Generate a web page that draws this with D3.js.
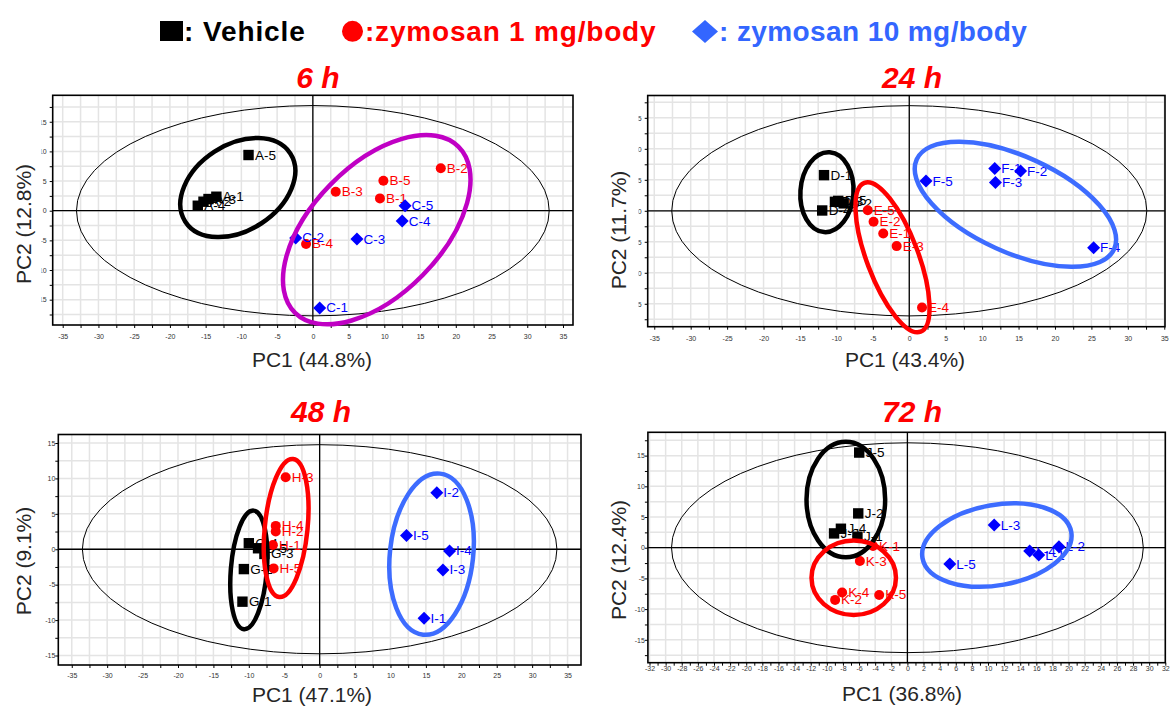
<!DOCTYPE html>
<html>
<head>
<meta charset="utf-8">
<script src="https://cdn.jsdelivr.net/npm/d3@7"></script>
<style>
  body { margin: 0; background: #fff; }
  text { font-family: Arial, "Liberation Sans", sans-serif; }
</style>
</head>
<body>
<script>
// ---- data ----
var titles = ['6 h', '24 h', '48 h', '72 h'];
var pc1Titles = ['PC1 (44.8%)', 'PC1 (43.4%)', 'PC1 (47.1%)', 'PC1 (36.8%)'];
var pc2Titles = ['PC2 (12.8%)', 'PC2 (11.7%)', 'PC2 (9.1%)', 'PC2 (12.4%)'];

var xDomains = [[-36.4, 36.4], [-35.9, 35.1], [-36.9, 36.9], [-32.2, 32.0]];
var yDomains = [[-19.27, 19.46], [-18.7, 18.6], [-16.34, 16.2], [-18.73, 18.8]];

var xLabels5 = [-35, -30, -25, -20, -15, -10, -5, 0, 5, 10, 15, 20, 25, 30, 35];
var xLabels2 = [-32, -30, -28, -26, -24, -22, -20, -18, -16, -14, -12, -10, -8, -6, -4, -2,
                0, 2, 4, 6, 8, 10, 12, 14, 16, 18, 20, 22, 24, 26, 28, 30, 32];
var yLabels = [-15, -10, -5, 0, 5, 10, 15];

// Hotelling T2 ellipse semi axes (PC1, PC2)
var hotellingA = [33.07, 32.6, 33.5, 29.27];
var hotellingB = [17.73, 16.96, 14.76, 17.09];

// [label, PC1, PC2]
var vehicleScores = [
  [['A-5', -9.0, 9.39], ['A-1', -13.5, 2.36], ['A-3', -14.6, 1.97], ['A-2', -15.3, 1.52], ['A-4', -16.1, 0.84]],
  [['D-1', -11.7, 5.75], ['D-4', -11.95, 0.05], ['D-3', -10.2, 1.45], ['D-5', -9.75, 1.6], ['D-2', -9.0, 1.2]],
  [['G-1', -10.9, -7.4], ['G-2', -10.7, -2.8], ['G-3', -7.8, -0.66], ['G-5', -8.7, 0.14], ['G-4', -10.0, 0.85]],
  [['J-5', -5.98, 15.5], ['J-2', -6.1, 5.59], ['J-3', -9.1, 2.33], ['J-4', -8.25, 3.09], ['J-1', -6.2, 1.79]]
];
var zym1Scores = [
  [['B-1', 9.39, 2.08], ['B-2', 17.9, 7.15], ['B-3', 3.2, 3.2], ['B-4', -0.95, -5.6], ['B-5', 9.87, 5.06]],
  [['E-1', -3.57, -3.65], ['E-2', -4.9, -1.77], ['E-3', -1.73, -5.7], ['E-4', 1.75, -15.6], ['E-5', -5.7, 0.1]],
  [['H-1', -6.6, 0.6], ['H-2', -6.2, 2.5], ['H-3', -4.8, 10.17], ['H-4', -6.2, 3.3], ['H-5', -6.5, -2.7]],
  [['K-1', -4.27, 0.27], ['K-2', -8.97, -8.5], ['K-3', -5.9, -2.17], ['K-4', -8.1, -7.3], ['K-5', -3.5, -7.7]]
];
var zym10Scores = [
  [['C-1', 0.96, -16.4], ['C-2', -2.4, -4.6], ['C-3', 6.17, -4.78], ['C-4', 12.5, -1.74], ['C-5', 12.9, 0.84]],
  [['F-1', 11.73, 6.83], ['F-2', 15.28, 6.4], ['F-3', 11.83, 4.57], ['F-4', 25.3, -5.97], ['F-5', 2.3, 4.8]],
  [['I-1', 14.74, -9.73], ['I-2', 16.54, 7.99], ['I-3', 17.41, -2.92], ['I-4', 18.34, -0.24], ['I-5', 12.26, 1.93]],
  [['L-1', 16.3, -1.19], ['L-2', 18.8, 0.16], ['L-3', 10.77, 3.69], ['L-4', 15.17, -0.54], ['L-5', 5.26, -2.66]]
];

// hand drawn group rings: [centre PC1, centre PC2, radius PC1, radius PC2, tilt deg, colour]
var groupRings = [
  [[-10.5, 3.9, 8.76, 7.22, -33, '#000'], [8.94, -3.2, 16.3, 10.9, -45.5, '#c000c4']],
  [[-11.3, 3.0, 3.64, 6.45, 4, '#000'], [-2.3, -7.5, 3.53, 12.84, -20.7, '#ff0000'], [14.57, 1.05, 14.88, 7.74, 24.4, '#3d6cff']],
  [[-10.0, -2.92, 2.54, 8.4, 4.6, '#000'], [-4.73, 3.0, 3.02, 9.79, 5.7, '#ff0000'], [15.8, -0.69, 5.88, 11.43, 6, '#3d6cff']],
  [[-7.64, 7.85, 4.88, 9.41, 0, '#000'], [-6.66, -4.9, 5.24, 6.06, 0, '#ff0000'], [11.1, 0.44, 9.37, 6.55, -10, '#3d6cff']]
];

// ---- layout ----
var width = 1170;
var height = 711;

var panels = [
  {left: 52.7, right: 573, top: 95.3, bottom: 325, tx: 318, ty: 88, p1x: 312, p1y: 367, p2x: 31, p2y: 224, xGap: 12, yPad: 3, clipX: 41.5, xStep: 2.5, xGrid: 2.5, xLab: xLabels5},
  {left: 647.7, right: 1165, top: 95.5, bottom: 326.7, tx: 912, ty: 88, p1x: 905, p1y: 367, p2x: 626, p2y: 230, xGap: 12, yPad: 3, clipX: 638.5, xStep: 2.5, xGrid: 2.5, xLab: xLabels5},
  {left: 58.3, right: 581, top: 434.5, bottom: 665, tx: 321, ty: 422, p1x: 312, p1y: 702, p2x: 31, p2y: 561, xGap: 11, yPad: 0, clipX: null, xStep: 2.5, xGrid: 2.5, xLab: xLabels5},
  {left: 647.9, right: 1165.3, top: 432.3, bottom: 662.7, tx: 912, ty: 422, p1x: 902, p1y: 701, p2x: 626, p2y: 560, xGap: 5.5, yPad: 0, clipX: null, xStep: 1, xGrid: 2, xLab: xLabels2}
];

var svg = d3.select('body').append('svg')
  .attr('width', width)
  .attr('height', height);

var defs = svg.append('defs');

function steps(domain, step) {
  return d3.range(Math.ceil(domain[0] / step) * step, domain[1] + 1e-9, step);
}

function drawPanel(i) {
  var p = panels[i];
  var x = d3.scaleLinear().domain(xDomains[i]).range([p.left, p.right]);
  var y = d3.scaleLinear().domain(yDomains[i]).range([p.bottom, p.top]);
  var g = svg.append('g');

  // grid
  g.selectAll('.vgrid').data(steps(xDomains[i], p.xGrid)).join('line')
    .attr('x1', d => x(d)).attr('x2', d => x(d))
    .attr('y1', p.top).attr('y2', p.bottom)
    .attr('stroke', '#e4e4e4').attr('stroke-width', 1.5);
  g.selectAll('.hgrid').data(steps(yDomains[i], 2.5)).join('line')
    .attr('x1', p.left).attr('x2', p.right)
    .attr('y1', d => y(d)).attr('y2', d => y(d))
    .attr('stroke', '#e4e4e4').attr('stroke-width', 1.5);

  // Hotelling ellipse
  g.append('ellipse')
    .attr('cx', x(0)).attr('cy', y(0))
    .attr('rx', x(hotellingA[i]) - x(0))
    .attr('ry', y(0) - y(hotellingB[i]))
    .attr('fill', 'none').attr('stroke', '#000').attr('stroke-width', 1);

  // zero lines
  g.append('line').attr('x1', x(0)).attr('x2', x(0)).attr('y1', p.top).attr('y2', p.bottom)
    .attr('stroke', '#000').attr('stroke-width', 1.3);
  g.append('line').attr('x1', p.left).attr('x2', p.right).attr('y1', y(0)).attr('y2', y(0))
    .attr('stroke', '#000').attr('stroke-width', 1.3);

  // axes
  var xLabSet = p.xLab.map(String);
  var xAxis = d3.axisBottom(x)
    .tickValues(steps(xDomains[i], p.xStep))
    .tickFormat(d => xLabSet.indexOf(String(+d.toFixed(3))) >= 0 ? String(+d.toFixed(3)) : '')
    .tickSize(3).tickPadding(p.xGap - 5.5);
  var gx = g.append('g').attr('transform', 'translate(0,' + p.bottom + ')').call(xAxis);
  gx.select('.domain').remove();
  gx.selectAll('text').attr('font-size', 7).attr('fill', '#333');

  var yLabSet = yLabels.map(String);
  var yAxis = d3.axisLeft(y)
    .tickValues(steps(yDomains[i], 2.5))
    .tickFormat(d => yLabSet.indexOf(String(d)) >= 0 ? String(d) : '')
    .tickSize(3).tickPadding(p.yPad);
  var gy = g.append('g').attr('transform', 'translate(' + p.left + ',0)').call(yAxis);
  gy.select('.domain').remove();
  gy.selectAll('text').attr('font-size', 7).attr('fill', '#333');
  if (p.clipX !== null) {
    defs.append('clipPath').attr('id', 'yclip' + i).append('rect')
      .attr('x', p.clipX - p.left).attr('y', p.top - 10)
      .attr('width', 40).attr('height', p.bottom - p.top + 20);
    gy.attr('clip-path', 'url(#yclip' + i + ')');
  }

  // frame
  g.append('rect')
    .attr('x', p.left).attr('y', p.top)
    .attr('width', p.right - p.left).attr('height', p.bottom - p.top)
    .attr('fill', 'none').attr('stroke', '#000').attr('stroke-width', 1.6);

  // points
  var pts = g.append('g');
  vehicleScores[i].forEach(function(d) {
    pts.append('rect')
      .attr('x', x(d[1]) - 5.2).attr('y', y(d[2]) - 5.2)
      .attr('width', 10.4).attr('height', 10.4).attr('fill', '#000');
    pts.append('text').attr('x', x(d[1]) + 6.5).attr('y', y(d[2]) + 4.5)
      .attr('font-size', 13.5).attr('fill', '#000').text(d[0]);
  });
  zym1Scores[i].forEach(function(d) {
    pts.append('circle')
      .attr('cx', x(d[1])).attr('cy', y(d[2])).attr('r', 5)
      .attr('fill', '#ff0000');
    pts.append('text').attr('x', x(d[1]) + 6).attr('y', y(d[2]) + 4.5)
      .attr('font-size', 13.5).attr('fill', '#ff0000').text(d[0]);
  });
  zym10Scores[i].forEach(function(d) {
    var cx = x(d[1]), cy = y(d[2]);
    pts.append('path')
      .attr('d', 'M' + cx + ',' + (cy - 6.5) + 'L' + (cx + 6.5) + ',' + cy +
                 'L' + cx + ',' + (cy + 6.5) + 'L' + (cx - 6.5) + ',' + cy + 'Z')
      .attr('fill', '#0000ff');
    pts.append('text').attr('x', cx + 6.5).attr('y', cy + 4.5)
      .attr('font-size', 13.5).attr('fill', '#0000ff').text(d[0]);
  });

  // group rings
  groupRings[i].forEach(function(r) {
    var cx = x(r[0]), cy = y(r[1]);
    g.append('ellipse')
      .attr('cx', 0).attr('cy', 0)
      .attr('rx', x(r[2]) - x(0)).attr('ry', y(0) - y(r[3]))
      .attr('transform', 'translate(' + cx + ',' + cy + ') rotate(' + r[4] + ')')
      .attr('fill', 'none').attr('stroke', r[5]).attr('stroke-width', 4.5);
  });

  // titles
  svg.append('text').attr('x', p.tx).attr('y', p.ty)
    .attr('text-anchor', 'middle').attr('font-size', 30)
    .attr('font-weight', 'bold').attr('font-style', 'italic')
    .attr('fill', '#ff0000').text(titles[i]);
  svg.append('text').attr('x', p.p1x).attr('y', p.p1y)
    .attr('text-anchor', 'middle').attr('font-size', 21)
    .attr('fill', '#262626').text(pc1Titles[i]);
  svg.append('text')
    .attr('transform', 'translate(' + p.p2x + ',' + p.p2y + ') rotate(-90)')
    .attr('text-anchor', 'middle').attr('font-size', 21)
    .attr('fill', '#262626').text(pc2Titles[i]);
}

for (var i = 0; i < 4; i++) {
  drawPanel(i);
}

// legend
var legend = svg.append('g');
legend.append('rect').attr('x', 160).attr('y', 21).attr('width', 23).attr('height', 20).attr('fill', '#000');
legend.append('text').attr('x', 184).attr('y', 41.3).attr('font-size', 28).attr('font-weight', 'bold')
  .attr('letter-spacing', 0.9).attr('fill', '#000').text(': Vehicle');
legend.append('circle').attr('cx', 352.5).attr('cy', 31.3).attr('r', 10.5).attr('fill', '#ff0000');
legend.append('text').attr('x', 365).attr('y', 41.3).attr('font-size', 28).attr('font-weight', 'bold')
  .attr('letter-spacing', 0.8).attr('fill', '#ff0000').text(':zymosan 1 mg/body');
legend.append('path').attr('d', 'M705,20L718,31.5L705,43L692,31.5Z').attr('fill', '#3366ff');
legend.append('text').attr('x', 719).attr('y', 41.3).attr('font-size', 28).attr('font-weight', 'bold')
  .attr('letter-spacing', 0.4).attr('fill', '#3366ff').text(': zymosan 10 mg/body');
</script>
</body>
</html>
